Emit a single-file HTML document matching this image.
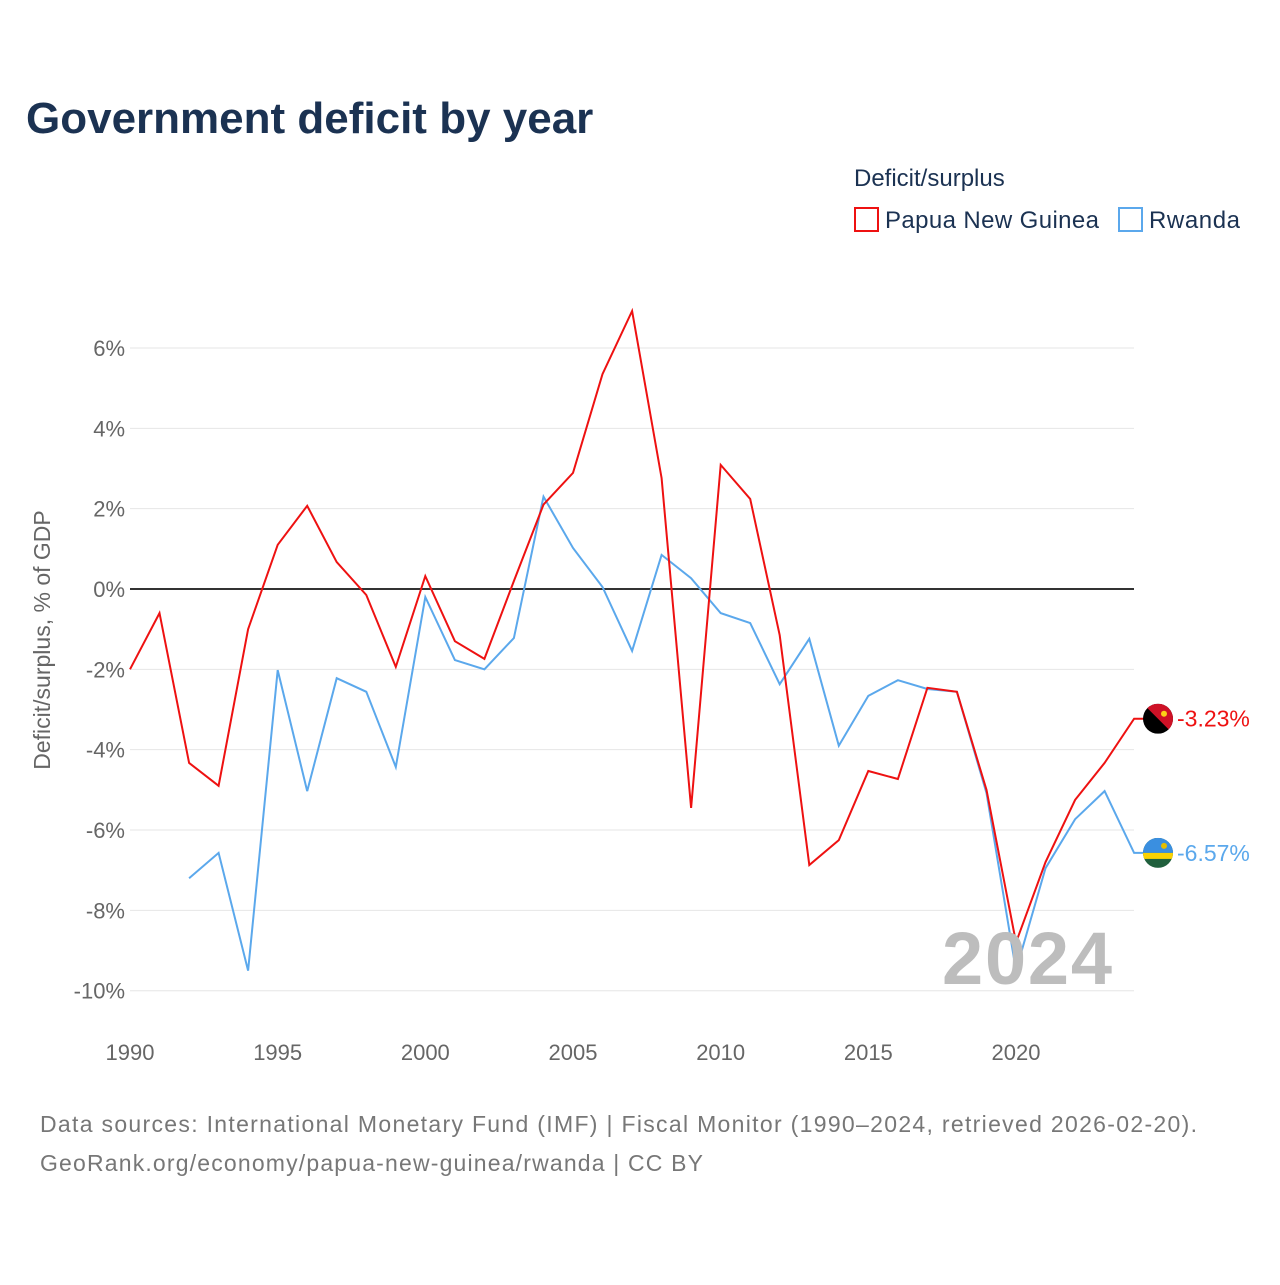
<!DOCTYPE html>
<html><head><meta charset="utf-8">
<style>
html,body{margin:0;padding:0;background:#fff;}
body{width:1280px;height:1280px;overflow:hidden;font-family:"Liberation Sans",sans-serif;}
svg text{font-family:"Liberation Sans",sans-serif;}
</style></head>
<body>
<svg id="chart" width="1280" height="1280" viewBox="0 0 1280 1280">
<text x="26" y="133" font-size="44" font-weight="bold" fill="#1b3252">Government deficit by year</text>
<text x="854" y="186" font-size="24" fill="#1b3252">Deficit/surplus</text>
<g>
<rect x="855" y="208" width="23" height="23" fill="none" stroke="#ee1111" stroke-width="2"/>
<text x="885" y="228" font-size="24" fill="#1b3252" textLength="214">Papua New Guinea</text></g>
<g>
<rect x="1119" y="208" width="23" height="23" fill="none" stroke="#5ba8ec" stroke-width="2"/>
<text x="1149" y="228" font-size="24" fill="#1b3252" textLength="91">Rwanda</text></g>
<g id="grid"></g>
<g id="series"></g>
<text x="942" y="984" font-size="74" font-weight="bold" fill="#bdbdbd" textLength="170">2024</text>
<text transform="translate(50,640) rotate(-90)" font-size="23" fill="#666" text-anchor="middle">Deficit/surplus, % of GDP</text>
<text x="40" y="1132" font-size="23" fill="#777" textLength="1157">Data sources: International Monetary Fund (IMF) | Fiscal Monitor (1990–2024, retrieved 2026-02-20).</text>
<text x="40" y="1171" font-size="23" fill="#777" textLength="663">GeoRank.org/economy/papua-new-guinea/rwanda | CC BY</text>
</svg>
<script>
const years=[];for(let y=1990;y<=2024;y++)years.push(y);
const pngValues=[-2.0,-0.6,-4.33,-4.9,-1.0,1.1,2.07,0.67,-0.15,-1.94,0.32,-1.3,-1.74,0.2,2.1,2.89,5.35,6.92,2.76,-5.45,3.09,2.24,-1.15,-6.87,-6.25,-4.53,-4.73,-2.46,-2.56,-5.0,-8.8,-6.8,-5.25,-4.33,-3.23];
const rwandaValues=[null,null,-7.2,-6.57,-9.5,-2.02,-5.03,-2.22,-2.56,-4.43,-0.2,-1.77,-2.0,-1.22,2.3,1.02,0.05,-1.54,0.85,0.27,-0.6,-0.85,-2.37,-1.24,-3.9,-2.66,-2.27,-2.49,-2.56,-5.08,-9.5,-6.95,-5.73,-5.03,-6.57];
const yTicks=[6,4,2,0,-2,-4,-6,-8,-10];
const xTicks=[1990,1995,2000,2005,2010,2015,2020];
const NS="http://www.w3.org/2000/svg";
const xs=y=>130+(y-1990)*(886/30);
const ys=v=>589-v*40.17;
function mk(t,a,p){const e=document.createElementNS(NS,t);for(const k in a)e.setAttribute(k,a[k]);p.appendChild(e);return e;}
const grid=document.getElementById('grid');
yTicks.forEach(v=>{
  const l=mk('line',{x1:130,x2:1134,y1:ys(v),y2:ys(v),stroke:v===0?'#333':'#e6e6e6','stroke-width':v===0?2:1},grid);
  
  
  const t=mk('text',{x:125,y:ys(v)+8,'font-size':22,fill:'#666','text-anchor':'end'},grid);
  t.textContent=v+'%';
  
  
});
xTicks.forEach(y=>{
  const t=mk('text',{x:xs(y),y:1060,'font-size':22,fill:'#666','text-anchor':'middle'},grid);
  t.textContent=y;
  
  
});
const ser=document.getElementById('series');
const svg=document.getElementById('chart');
const defs=mk('defs',{},svg);
function draw(vals,color,name,label,flag){
  let d='';let last=null;
  vals.forEach((v,i)=>{if(v==null)return;d+=(d?'L':'M')+xs(years[i]).toFixed(1)+' '+ys(v).toFixed(1);last=v;});
  d+='L1158 '+ys(last).toFixed(1);
  const p=mk('path',{d:d,fill:'none',stroke:color,'stroke-width':2},ser);
  
  
  const cy=ys(last);
  const cp=mk('clipPath',{id:'clip-'+name},defs);
  mk('circle',{cx:1158,cy:cy,r:15},cp);
  const g=mk('g',{'clip-path':'url(#clip-'+name+')'},ser);
  
  
  if(flag==='png'){
    mk('rect',{x:1143,y:cy-15,width:30,height:30,fill:'#000'},g);
    mk('path',{d:`M1143 ${cy-15}L1173 ${cy-15}L1173 ${cy+15}Z`,fill:'#ce1126'},g);
    mk('circle',{cx:1164,cy:cy-5,r:3,fill:'#fcd116'},g);
  }else{
    mk('rect',{x:1143,y:cy-15,width:30,height:30,fill:'#20603d'},g);
    mk('rect',{x:1143,y:cy-15,width:30,height:15,fill:'#3a8fe0'},g);
    mk('rect',{x:1143,y:cy,width:30,height:6,fill:'#fad201'},g);
    mk('circle',{cx:1164,cy:cy-7,r:3,fill:'#e5be01'},g);
  }
  const t=mk('text',{x:1177,y:cy+8,'font-size':23,fill:color},ser);
  t.textContent=label;
  
  
}
draw(rwandaValues,'#5ba8ec','rwanda',rwandaValues[rwandaValues.length-1].toFixed(2)+'%','rw');
draw(pngValues,'#ee1111','png',pngValues[pngValues.length-1].toFixed(2)+'%','png');
</script>
</body></html>
